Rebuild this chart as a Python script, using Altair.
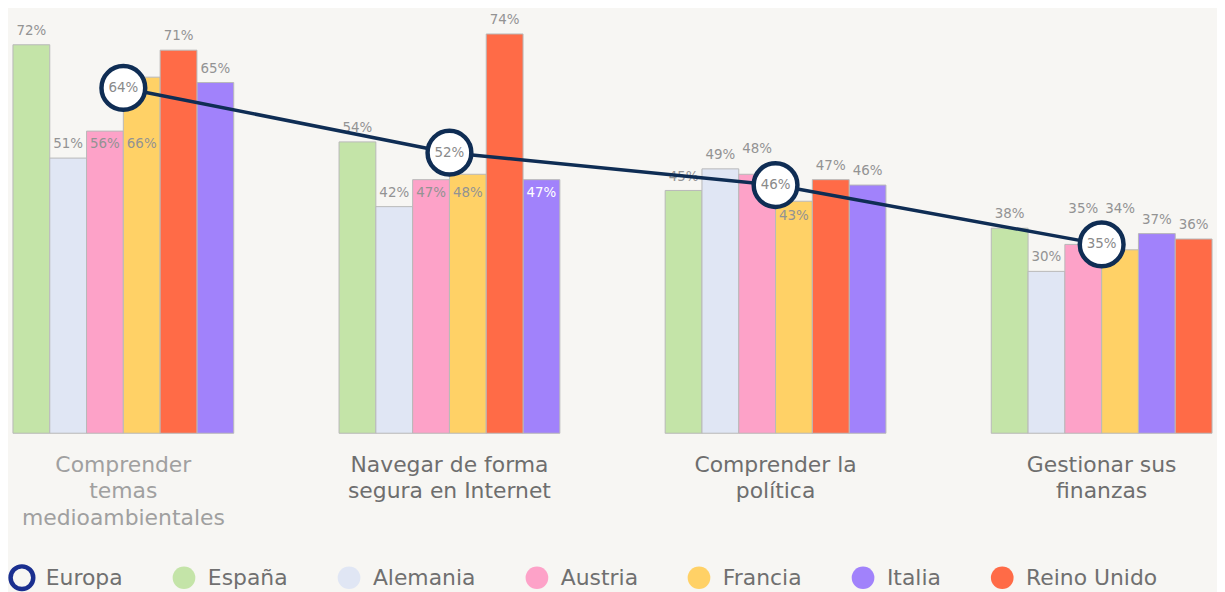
import altair as alt
import pandas as pd

# ---------------- data ----------------
topics = [
    "Comprender temas medioambientales",
    "Navegar de forma segura en Internet",
    "Comprender la política",
    "Gestionar sus finanzas",
]
topic_lines = [
    ["Comprender", "temas", "medioambientales"],
    ["Navegar de forma", "segura en Internet"],
    ["Comprender la", "política"],
    ["Gestionar sus", "finanzas"],
]
countries = ["España", "Alemania", "Austria", "Francia", "Italia", "Reino Unido"]
espana = [72, 54, 45, 38]
alemania = [51, 42, 49, 30]
austria = [56, 47, 48, 35]
francia = [66, 48, 43, 34]
italia = [65, 47, 46, 37]
reino_unido = [71, 74, 47, 36]
europa = [64, 52, 46, 35]

# order of bars inside each group (as drawn in the reference)
bar_order = [
    ["España", "Alemania", "Austria", "Francia", "Reino Unido", "Italia"],
    ["España", "Alemania", "Austria", "Francia", "Reino Unido", "Italia"],
    ["España", "Alemania", "Austria", "Francia", "Reino Unido", "Italia"],
    ["España", "Alemania", "Austria", "Francia", "Italia", "Reino Unido"],
]
# where each value label sits (countries order): above the bar, aligned with
# the Alemania label of the group, inside the bar, or lifted over the Europa dot
label_place = [
    ["above", "above", "aligned", "aligned", "above", "above"],
    ["above", "above", "aligned", "aligned", "aligned", "above"],
    ["above", "above", "over", "inside", "above", "above"],
    ["above", "above", "over", "over", "above", "above"],
]

legend_domain = ["Europa", "España", "Alemania", "Austria", "Francia", "Italia", "Reino Unido"]

# ---------------- style ----------------
BG = "#f7f6f3"
NAVY = "#0f2d54"
RING = "#1a2f8f"
FONT = "DejaVu Sans"
legend_colors = [BG, "#c4e4a8", "#e0e6f4", "#fda2c8", "#ffd166", "#a182fb", "#ff6b47"]

series = dict(zip(countries, [espana, alemania, austria, francia, italia, reino_unido]))
rows = []
for ti, t in enumerate(topics):
    for ci, c in enumerate(countries):
        v = series[c][ti]
        place = label_place[ti][ci]
        if place == "aligned":
            level = alemania[ti]
        elif place == "over":
            level = europa[ti]
        else:
            level = v
        tcol = "#ffffff" if (place == "aligned" and c == "Italia") else "#939393"
        rows.append(dict(topic=t, country=c, value=v, slot=bar_order[ti].index(c),
                         place=place, level=level, label=f"{v}%", tcol=tcol))
df = pd.DataFrame(rows)
df_eu = pd.DataFrame(dict(topic=topics, value=europa, label=[f"{v}%" for v in europa]))

label_expr = " : ".join(
    f"datum.label == '{t}' ? [" + ", ".join(f"'{l}'" for l in lines) + "]"
    for t, lines in zip(topics, topic_lines)
) + " : datum.label"

x_enc = alt.X(
    "topic:N",
    sort=topics,
    scale=alt.Scale(paddingInner=0.323, paddingOuter=0.0152),
    axis=alt.Axis(
        title=None, labelAngle=0, domain=False, ticks=False, labelPadding=21,
        labelFontSize=22, labelLineHeight=27, labelFont=FONT, labelLimit=400,
        labelExpr=label_expr,
        labelColor={"expr": f"datum.label == '{topics[0]}' ? '#a0a0a0' : '#6e6e6e'"},
    ),
)
y_scale = alt.Scale(domain=[0, 78.5], nice=False, zero=True)
x_off = alt.XOffset("slot:O", scale=alt.Scale(paddingInner=0, paddingOuter=0))

bars = alt.Chart(df).mark_bar(stroke="#b8b8b8", strokeWidth=1).encode(
    x=x_enc,
    xOffset=x_off,
    y=alt.Y("value:Q", scale=y_scale, axis=None),
    color=alt.Color(
        "country:N",
        scale=alt.Scale(domain=legend_domain, range=legend_colors),
        legend=alt.Legend(
            title=None, orient="bottom", direction="horizontal", columns=7,
            symbolType="circle", symbolSize=520, symbolStrokeWidth=4.5,
            symbolStrokeColor={"expr": f"datum.value == 'Europa' ? '{RING}' : 'transparent'"},
            labelFontSize=22, labelFont=FONT, labelColor="#707070", labelOffset=10,
            columnPadding=40, offset=35, labelLimit=300, symbolOpacity=1,
        ),
    ),
)

def label_layer(cond, dy):
    return alt.Chart(df).transform_filter(cond).mark_text(
        dy=dy, fontSize=13.5, font=FONT
    ).encode(
        x=x_enc, xOffset=x_off,
        y=alt.Y("level:Q", scale=y_scale, axis=None),
        text="label:N",
        fill=alt.Fill("tcol:N", scale=None),
    )

labels_top = label_layer("datum.place == 'above' || datum.place == 'aligned'", -14)
labels_in = label_layer("datum.place == 'inside'", 15)
labels_over = label_layer("datum.place == 'over'", -36)

line = alt.Chart(df_eu).mark_line(color=NAVY, strokeWidth=3.5).encode(
    x=x_enc, y=alt.Y("value:Q", scale=y_scale, axis=None)
)
dots = alt.Chart(df_eu).mark_point(
    shape="circle", filled=True, fill="white", stroke=NAVY, strokeWidth=4.5,
    size=1936, opacity=1
).encode(x=x_enc, y=alt.Y("value:Q", scale=y_scale, axis=None))
dot_text = alt.Chart(df_eu).mark_text(fontSize=13.5, font=FONT, color="#8a8a8a").encode(
    x=x_enc, y=alt.Y("value:Q", scale=y_scale, axis=None), text="label:N"
)

chart = alt.layer(bars, labels_top, labels_in, labels_over, line, dots, dot_text).properties(
    width=1216, height=426, background=BG, padding=0
).configure_view(stroke=None)

chart.save("out.html", embed_options={"renderer": "svg", "actions": False})
